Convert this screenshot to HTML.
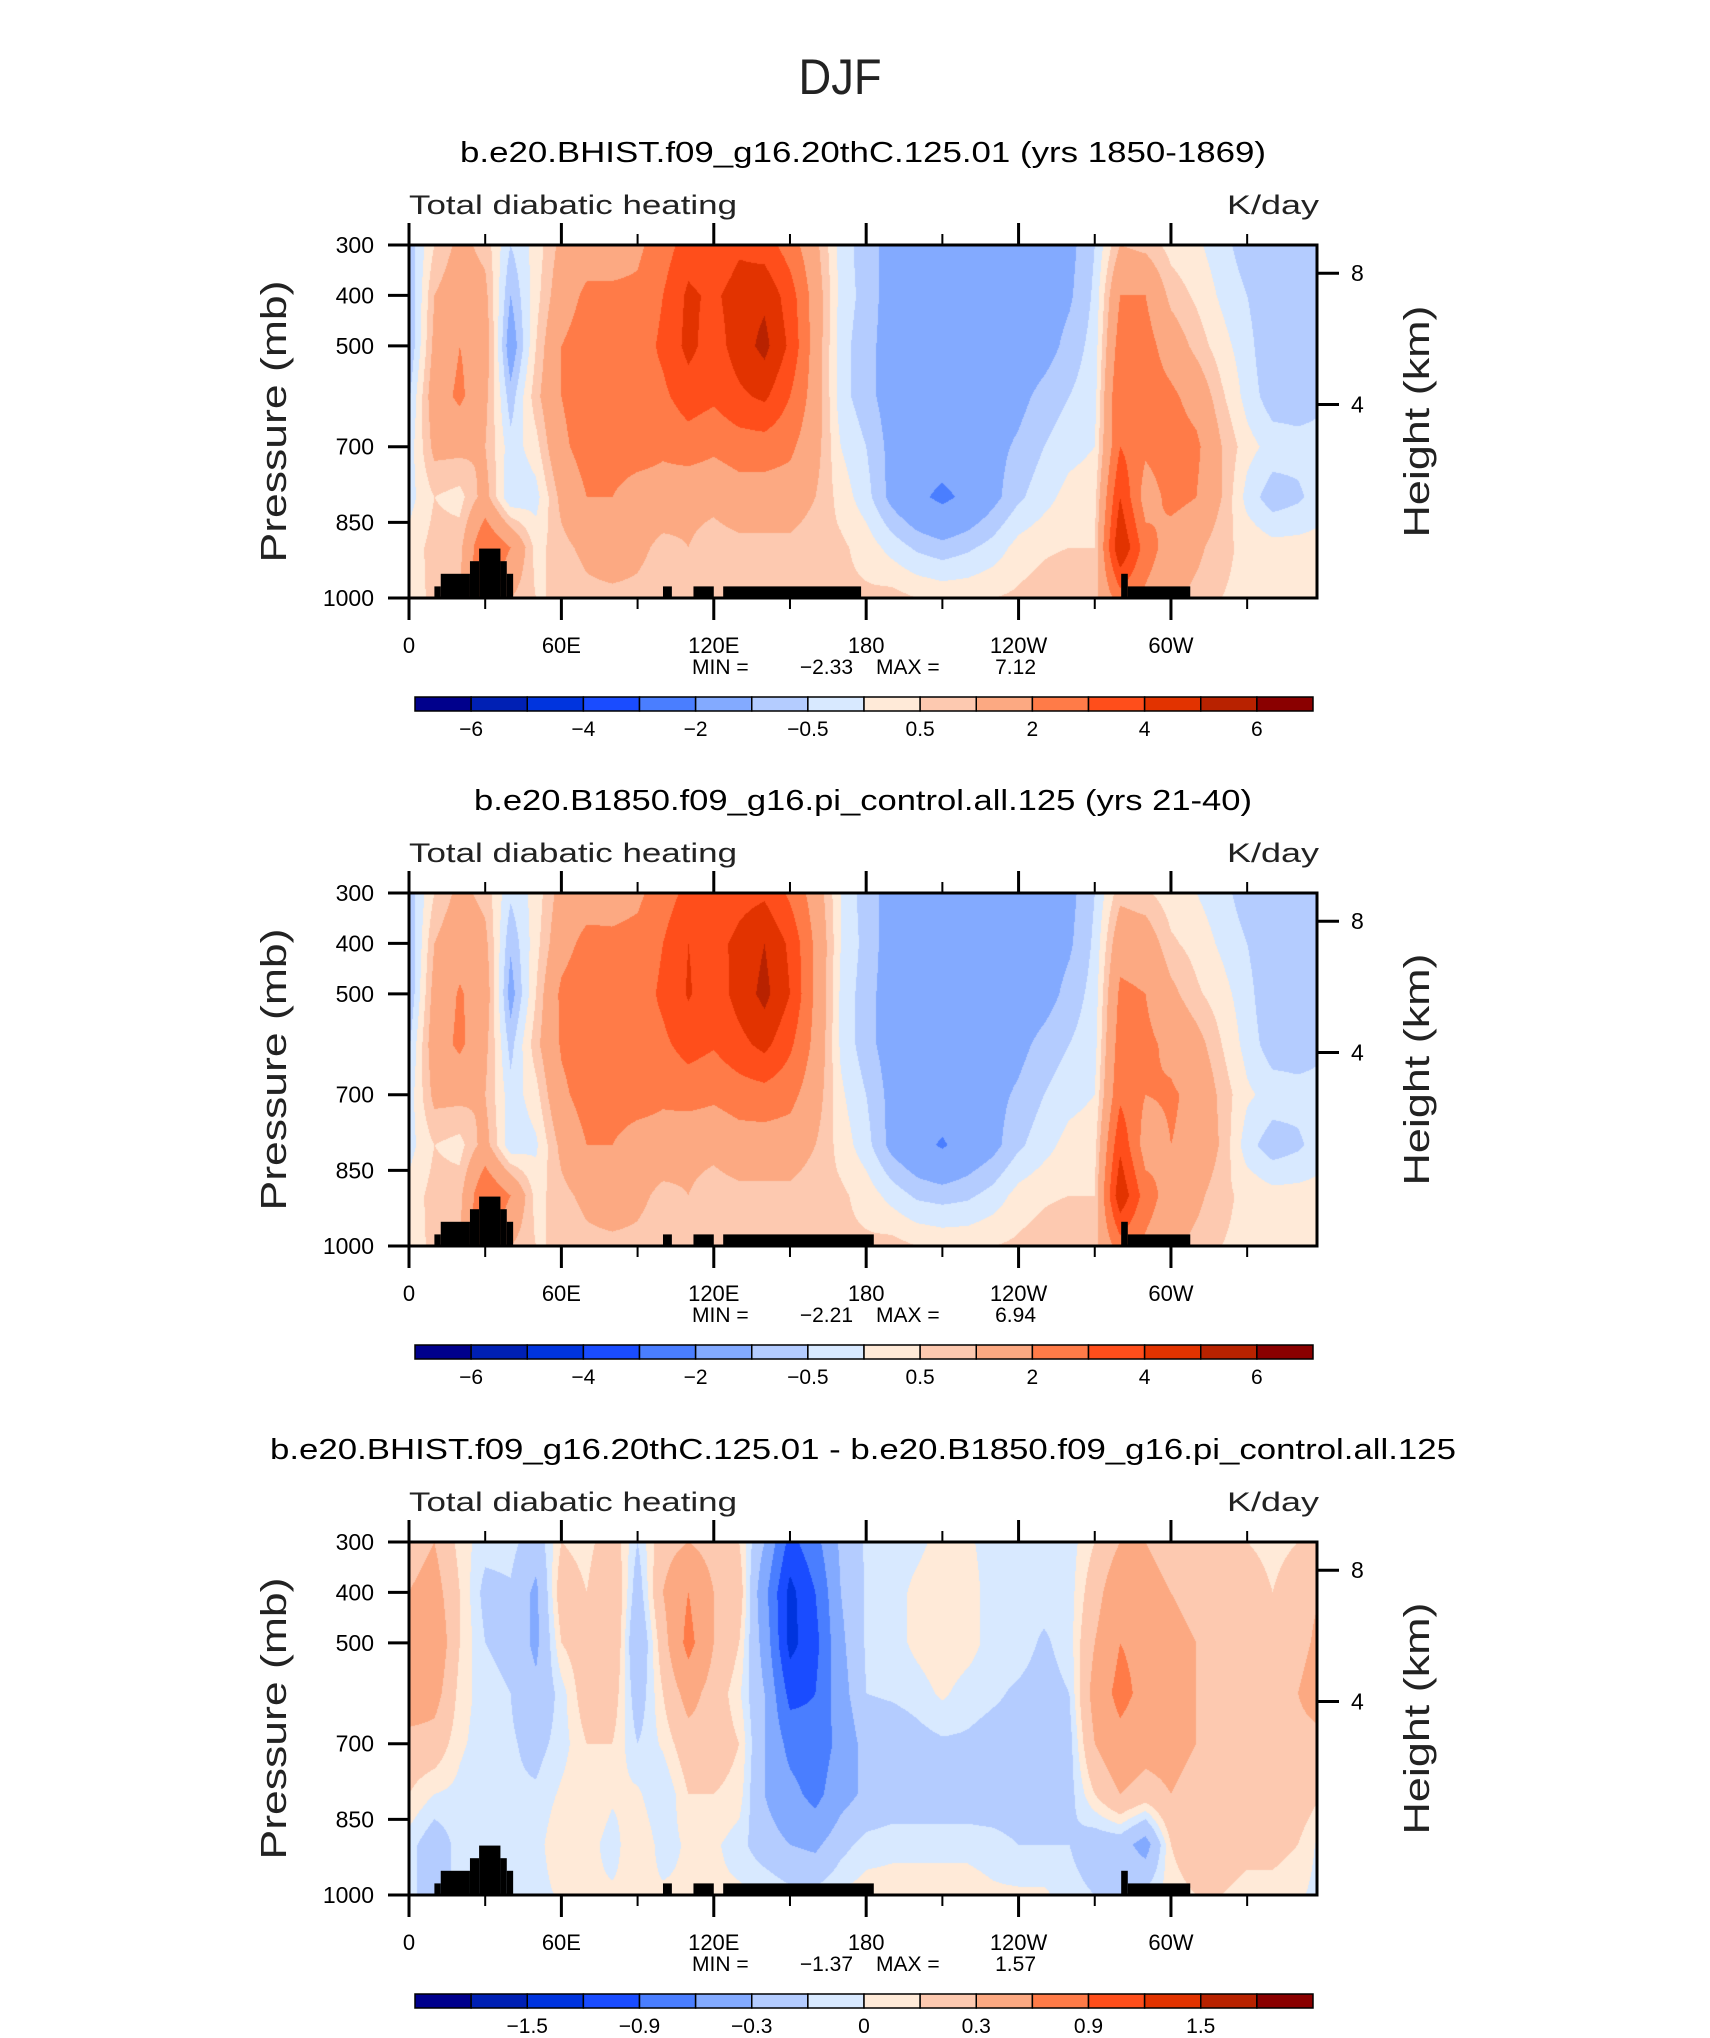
<!DOCTYPE html>
<html><head><meta charset="utf-8"><style>
html,body{margin:0;padding:0;background:#fff}
#wrap{position:relative;width:1710px;height:2038px;overflow:hidden;font-family:"Liberation Sans",sans-serif}
canvas{position:absolute}
svg{position:absolute;left:0;top:0}
</style></head><body>
<div id="wrap">
<canvas id="c0" width="908" height="353" style="left:409px;top:245px"></canvas>
<canvas id="c1" width="908" height="353" style="left:409px;top:893px"></canvas>
<canvas id="c2" width="908" height="353" style="left:409px;top:1542px"></canvas>
<svg id="svg" width="1710" height="2038" xmlns="http://www.w3.org/2000/svg">
<text x="840" y="94" font-size="50" text-anchor="middle" fill="#222" textLength="83" lengthAdjust="spacingAndGlyphs">DJF</text>
</svg>
</div>
<script>
// ---- data ----
const lons = [0,10,20,30,40,50,60,70,80,90,100,110,120,130,140,150,160,170,180,190,200,210,220,230,240,250,260,270,280,290,300,310,320,330,340,350];
const pLevels = [300,400,500,600,700,800,900,1000];
const field1 = [
[-0.8,-1,-1,-0.6,-0.3,-0.2,0.2,0.3],
[0.5,1,1.2,1.5,1.2,0.5,0.7,0.6],
[1.2,1.5,2,2.2,1.2,0.3,0.8,1],
[0.8,1.2,1.5,1.2,1,1.3,3,3],
[-0.5,-1,-1.5,-0.8,-0.3,-0.5,2,1],
[0.2,0.3,0.5,0.8,0.3,-0.2,0.3,0.5],
[1.2,1.5,2,2,1.8,1.2,0.8,0.5],
[1.5,2.2,2.5,2.5,2.4,2,1.2,0.8],
[1.5,2.2,2.6,2.6,2.5,2,1.5,0.8],
[1.8,2.2,2.5,2.5,2.5,1.5,1.2,0.8],
[2.5,3,3.2,2.8,2.2,1.5,0.8,0.6],
[3.5,4.2,4.3,3.5,2.5,1.2,1,0.8],
[3,3.8,3.5,3.2,2.2,1.2,0.7,0.5],
[3.8,4.5,4.5,3.8,2.5,1.5,0.8,0.5],
[3.5,4.8,5.3,4.2,2.5,1.5,0.8,0.6],
[2.5,3.5,3.8,3,2.2,1.5,0.8,0.6],
[1.2,1.5,1.5,1.5,1.3,1,0.6,0.5],
[-0.2,-0.2,-0.3,-0.3,0,0.3,0.6,0.6],
[-0.8,-0.7,-0.8,-0.8,-0.5,-0.3,0.3,0.6],
[-1.2,-1.3,-1.3,-1.3,-1.2,-1.2,-0.2,0.7],
[-1.4,-1.5,-1.5,-1.5,-1.5,-1.8,-0.6,0.5],
[-1.5,-1.5,-1.5,-1.5,-1.5,-2.2,-0.8,0.4],
[-1.5,-1.5,-1.5,-1.5,-1.4,-1.8,-0.6,0.4],
[-1.5,-1.5,-1.5,-1.4,-1.2,-1.2,-0.3,0.5],
[-1.5,-1.5,-1.5,-1.2,-0.9,-0.6,0.2,0.6],
[-1.4,-1.4,-1.3,-0.8,-0.5,-0.2,0.4,0.8],
[-1.2,-1.1,-0.8,-0.5,-0.2,0.2,0.5,1],
[-0.5,-0.4,-0.3,-0.2,0,0.3,0.5,0.8],
[1,2,2.5,3,3,4,5,2.5],
[0.8,2,2.4,2.5,2.2,1.5,2.5,1.8],
[0.3,0.8,1.5,2.2,2.5,2.3,1.5,1.2],
[0.1,0.4,0.8,1.6,2.2,2,1.2,0.8],
[-0.3,-0.1,0.2,0.6,1,1,0.6,0.5],
[-0.8,-0.5,-0.3,-0.2,0.2,-0.2,0.4,0.4],
[-1,-1,-1,-0.8,-0.2,-0.8,0.2,0.3],
[-1,-1,-1,-0.8,-0.3,-0.6,0.2,0.3]];
const field2 = [
[-0.8,-1,-1,-0.6,-0.3,-0.2,0.2,0.3],
[0.5,1,1.3,1.5,1.2,0.5,0.7,0.6],
[1.2,1.6,2.1,2.2,1.2,0.3,0.8,1],
[0.8,1.2,1.5,1.2,1,1.3,3,3],
[-0.4,-0.9,-1.3,-0.7,-0.3,-0.4,2,1],
[0.2,0.3,0.5,0.8,0.3,-0.1,0.3,0.5],
[1.3,1.6,2.2,2.1,1.8,1.2,0.8,0.5],
[1.5,2.3,2.7,2.5,2.4,2,1.2,0.8],
[1.6,2.2,2.6,2.6,2.5,2,1.5,0.8],
[1.8,2.3,2.5,2.5,2.5,1.5,1.2,0.8],
[2.5,3,3.2,2.8,2.2,1.5,0.8,0.6],
[3.3,4,4.1,3.4,2.4,1.2,1,0.8],
[3,3.6,3.4,3.1,2.2,1.2,0.7,0.5],
[3.6,4.3,4.4,3.7,2.5,1.5,0.8,0.5],
[3.8,5,5.3,4.3,2.6,1.5,0.8,0.6],
[2.8,3.8,4,3.2,2.3,1.5,0.8,0.6],
[1.5,1.8,1.8,1.7,1.4,1,0.6,0.5],
[0,0,-0.1,-0.1,0.1,0.3,0.6,0.6],
[-0.8,-0.7,-0.8,-0.8,-0.5,-0.3,0.3,0.6],
[-1.2,-1.3,-1.3,-1.3,-1.2,-1.2,-0.2,0.7],
[-1.4,-1.5,-1.5,-1.5,-1.5,-1.7,-0.6,0.5],
[-1.5,-1.5,-1.5,-1.5,-1.5,-2.1,-0.7,0.4],
[-1.5,-1.5,-1.5,-1.5,-1.4,-1.6,-0.6,0.4],
[-1.5,-1.5,-1.5,-1.4,-1.2,-1.2,-0.3,0.5],
[-1.5,-1.5,-1.5,-1.2,-0.9,-0.6,0.2,0.6],
[-1.4,-1.4,-1.3,-0.8,-0.5,-0.2,0.4,0.8],
[-1.2,-1.1,-0.8,-0.5,-0.2,0.2,0.5,1],
[-0.5,-0.4,-0.3,-0.2,0,0.3,0.5,0.8],
[0.8,1.6,2.2,2.5,2.8,3.8,4.8,2.5],
[0.6,1.5,2,2.2,2,1.5,2.5,1.8],
[0.2,0.6,1.2,1.8,2.1,2,1.5,1.2],
[0,0.3,0.6,1.3,1.8,1.8,1.2,0.8],
[-0.3,-0.1,0.2,0.5,0.8,0.9,0.6,0.5],
[-0.8,-0.5,-0.3,-0.2,0.1,-0.3,0.4,0.4],
[-1,-1,-1,-0.8,-0.2,-0.8,0.2,0.3],
[-1,-1,-1,-0.8,-0.3,-0.6,0.2,0.3]];
const field3 = [
[0.2,0.3,0.4,0.5,0.2,0.1,-0.05,-0.05],
[0.3,0.4,0.5,0.4,0.2,0,-0.2,-0.2],
[0.05,0.1,0.1,0.05,0.02,-0.03,-0.05,-0.05],
[-0.05,-0.15,-0.1,-0.05,-0.05,-0.08,-0.05,-0.05],
[-0.05,-0.12,-0.15,-0.1,-0.08,-0.08,-0.05,-0.05],
[-0.2,-0.35,-0.35,-0.25,-0.15,-0.08,-0.05,-0.05],
[0.1,0.2,0.1,-0.05,-0.05,0.02,0.1,0.02],
[0.05,0.1,0.2,0.2,0.1,0.1,0.05,0.02],
[0.2,0.3,0.3,0.2,0.1,0.02,-0.05,0.02],
[-0.1,-0.2,-0.3,-0.2,-0.1,0.02,0.1,0.02],
[0.2,0.3,0.2,0.1,0.02,-0.1,-0.05,0.02],
[0.3,0.6,0.7,0.4,0.2,0.1,0.02,0.02],
[0.2,0.3,0.3,0.2,0.2,0.1,0.02,0.02],
[0.1,0.2,0.1,0.02,0.1,0.05,-0.05,0.02],
[-0.3,-0.5,-0.4,-0.3,-0.3,-0.3,-0.2,0.02],
[-1,-1.3,-1.3,-1,-0.7,-0.5,-0.3,-0.05],
[-0.7,-0.9,-1,-0.9,-0.8,-0.7,-0.35,-0.05],
[-0.25,-0.3,-0.35,-0.4,-0.5,-0.4,-0.15,0.02],
[-0.08,-0.08,-0.08,-0.1,-0.2,-0.25,-0.05,0.05],
[-0.05,-0.05,-0.05,-0.08,-0.2,-0.2,-0.03,0.05],
[-0.03,0.03,0.03,-0.05,-0.15,-0.2,-0.03,0.05],
[0.04,0.08,0.08,0.02,-0.12,-0.2,-0.03,0.05],
[0.02,0.05,0.05,-0.05,-0.12,-0.2,-0.03,0.05],
[-0.05,-0.05,-0.05,-0.08,-0.15,-0.2,-0.05,0.02],
[-0.05,-0.05,-0.05,-0.12,-0.15,-0.2,-0.1,0.02],
[-0.05,-0.05,-0.12,-0.15,-0.15,-0.2,-0.1,0.02],
[-0.05,-0.05,-0.05,-0.1,-0.15,-0.15,-0.1,-0.05],
[0.1,0.2,0.3,0.4,0.3,0.1,-0.2,-0.1],
[0.3,0.5,0.6,0.7,0.5,0.3,-0.2,-0.1],
[0.3,0.4,0.5,0.5,0.4,0.2,-0.4,-0.05],
[0.2,0.3,0.4,0.4,0.4,0.3,0.1,0.05],
[0.1,0.2,0.3,0.3,0.3,0.2,0.2,0.1],
[0.1,0.1,0.2,0.3,0.25,0.2,0.2,0.1],
[0.1,0.2,0.2,0.2,0.2,0.2,0.15,0.05],
[0.05,0.1,0.2,0.2,0.2,0.2,0.15,0.05],
[0.1,0.2,0.2,0.3,0.2,0.2,0.1,0.02]];
const levels1 = [-6,-5,-4,-3,-2,-1,-0.5,0,0.5,1,2,3,4,5,6];
const levels3 = [-1.8,-1.5,-1.2,-0.9,-0.6,-0.3,-0.1,0,0.1,0.3,0.6,0.9,1.2,1.5,1.8];
const cbLabels1 = ["","−6","","−4","","−2","","−0.5","","0.5","","2","","4","","6"];
const cbLabels3 = ["","","−1.5","","−0.9","","−0.3","","0","","0.3","","0.9","","1.5",""];
const colors = ["#00008c","#0020b4","#0034de","#1a4cff","#4a7eff","#83aaff","#b4ccff","#d8e9ff","#ffead8","#fdc9b0","#fca982","#ff7b48","#ff4e1b","#e23300","#b82200","#8a0000"];
const lonTickVals = [0,60,120,180,240,300];
const lonTickLabels = ["0","60E","120E","180","120W","60W"];
const lonMinorVals = [30,90,150,210,270,330];
const pTickVals = [300,400,500,700,850,1000];
const heightTickVals = [8,4];
const titles = ["b.e20.BHIST.f09_g16.20thC.125.01 (yrs 1850-1869)","b.e20.B1850.f09_g16.pi_control.all.125 (yrs 21-40)","b.e20.BHIST.f09_g16.20thC.125.01 - b.e20.B1850.f09_g16.pi_control.all.125"];
const minVals = ["−2.33","−2.21","−1.37"];
const maxVals = ["7.12","6.94","1.57"];
const terrainLon0 = [10,12.5,24,27.6,36,38.5,100,112,123.7,280.4,283];
const terrainLon1 = [12.5,24,27.6,36,38.5,41,103.5,120,178,283,307.6];
const terrainP = [977,952,927,902,927,952,977,977,977,952,977];
const terrainEnd2 = 183;

// ---- layout ----
const X0=409, PW=908, PH=353, LONMAX=357.5;
const panelTops=[245,893,1542];
const svg=document.getElementById('svg');
const NS='http://www.w3.org/2000/svg';
function xs(lon){return X0+lon/LONMAX*PW;}
function ys(top,p){return top+(p-300)/700*PH;}
function mk(tag,attrs,parent){const e=document.createElementNS(NS,tag);for(const k in attrs)e.setAttribute(k,attrs[k]);(parent||svg).appendChild(e);return e;}
function val(field,lon,p){
  const n=lons.length;
  let fi=lon/10, i0=Math.floor(fi), t=fi-i0;
  const i1=(i0+1)%n; i0=i0%n;
  let fj=(p-300)/100; let j0=Math.min(Math.floor(fj),pLevels.length-2); let u=fj-j0;
  const a=field[i0][j0]*(1-u)+field[i0][j0+1]*u;
  const b=field[i1][j0]*(1-u)+field[i1][j0+1]*u;
  return a*(1-t)+b*t;
}
function hexRGB(h){return [parseInt(h.substr(1,2),16),parseInt(h.substr(3,2),16),parseInt(h.substr(5,2),16)];}
const rgb=colors.map(hexRGB);
const fields=[field1,field2,field3];
const levs=[levels1,levels1,levels3];
const cbl=[cbLabels1,cbLabels1,cbLabels3];
for(let k=0;k<3;k++){
  const cv=document.getElementById('c'+k), ctx=cv.getContext('2d');
  const img=ctx.createImageData(PW,PH);
  for(let py=0;py<PH;py++){
    const p=300+(py+0.5)/PH*700;
    for(let px=0;px<PW;px++){
      const lon=(px+0.5)/PW*LONMAX;
      const v=val(fields[k],lon,p);
      let c=0; const L=levs[k]; while(c<L.length && v>=L[c]) c++;
      const o=(py*PW+px)*4; const col=rgb[c];
      img.data[o]=col[0];img.data[o+1]=col[1];img.data[o+2]=col[2];img.data[o+3]=255;
    }
  }
  ctx.putImageData(img,0,0);
}
// ---- overlay ----
for(let k=0;k<3;k++){
  const T=panelTops[k], B=T+PH;
  const g=mk('g',{});
  
  
  const tt=mk('text',{x:863,y:T-83,'font-size':29,'text-anchor':'middle',textLength:[806,778,1186][k],lengthAdjust:'spacingAndGlyphs'},g);
  tt.textContent=titles[k];
  
  
  const lt=mk('text',{x:X0,y:T-31,'font-size':27,textLength:328,lengthAdjust:'spacingAndGlyphs',fill:'#222'},g);
  lt.textContent='Total diabatic heating';
  
  
  const rt=mk('text',{x:X0+PW+2,y:T-31,'font-size':27,'text-anchor':'end',textLength:92,lengthAdjust:'spacingAndGlyphs',fill:'#222'},g);
  rt.textContent='K/day';
  
  
  for(let i=0;i<terrainP.length;i++){
    let l1=terrainLon1[i]; if(k>0 && i===8) l1=terrainEnd2;
    const r=mk('rect',{x:xs(terrainLon0[i]),y:ys(T,terrainP[i]),width:xs(l1)-xs(terrainLon0[i]),height:B-ys(T,terrainP[i]),fill:'#000'},g);
    
    
  }
  const box=mk('rect',{x:X0,y:T,width:PW,height:PH,fill:'none',stroke:'#000','stroke-width':3},g);
  
  
  for(let i=0;i<lonTickVals.length;i++){
    const x=xs(lonTickVals[i]);
    mk('line',{x1:x,x2:x,y1:B,y2:B+22,stroke:'#000','stroke-width':3},g);
    mk('line',{x1:x,x2:x,y1:T,y2:T-22,stroke:'#000','stroke-width':3},g);
    const tl=mk('text',{x:x,y:B+55,'font-size':22,'text-anchor':'middle'},g);
    tl.textContent=lonTickLabels[i];
    
    
  }
  for(const m of lonMinorVals){
    const x=xs(m);
    mk('line',{x1:x,x2:x,y1:B,y2:B+11,stroke:'#000','stroke-width':2},g);
    mk('line',{x1:x,x2:x,y1:T,y2:T-11,stroke:'#000','stroke-width':2},g);
  }
  for(const p of pTickVals){
    const y=ys(T,p);
    mk('line',{x1:X0,x2:X0-21,y1:y,y2:y,stroke:'#000','stroke-width':3},g);
    const pl=mk('text',{x:374,y:y+8,'font-size':23,'text-anchor':'end'},g);
    pl.textContent=String(p);
    
    
  }
  for(const h of heightTickVals){
    const p=1013.25*Math.pow(1-2.25577e-5*h*1000,5.25588);
    const y=ys(T,p);
    mk('line',{x1:X0+PW,x2:X0+PW+22,y1:y,y2:y,stroke:'#000','stroke-width':3},g);
    const hl=mk('text',{x:1351,y:y+8,'font-size':23},g);
    hl.textContent=String(h);
    
    
  }
  const ya=mk('text',{x:0,y:0,'font-size':36,'text-anchor':'middle',transform:`translate(286,${T+PH/2}) rotate(-90)`,textLength:282,lengthAdjust:'spacingAndGlyphs',fill:'#222'},g);
  ya.textContent='Pressure (mb)';
  
  
  const yb=mk('text',{x:0,y:0,'font-size':36,'text-anchor':'middle',transform:`translate(1429,${T+PH/2}) rotate(-90)`,textLength:232,lengthAdjust:'spacingAndGlyphs',fill:'#222'},g);
  yb.textContent='Height (km)';
  
  
  const mm=mk('text',{x:692,y:B+76,'font-size':21},g);
  
  
  mm.textContent='MIN =';
  const mv=mk('text',{x:853,y:B+76,'font-size':21,'text-anchor':'end'},g); mv.textContent=minVals[k];
  
  
  const mx=mk('text',{x:876,y:B+76,'font-size':21},g); mx.textContent='MAX =';
  
  
  const xv=mk('text',{x:1036,y:B+76,'font-size':21,'text-anchor':'end'},g); xv.textContent=maxVals[k];
  
  
  const cy=B+99, cw=(1313-415)/16;
  for(let i=0;i<16;i++){
    const r=mk('rect',{x:415+i*cw,y:cy,width:cw,height:14,fill:colors[i],stroke:'#000','stroke-width':1.5},g);
    
    
    if(cbl[k][i]){
      const t=mk('text',{x:415+i*cw,y:cy+39,'font-size':21,'text-anchor':'middle'},g);
      t.textContent=cbl[k][i];
      
      
    }
  }
}
</script>
</body></html>
